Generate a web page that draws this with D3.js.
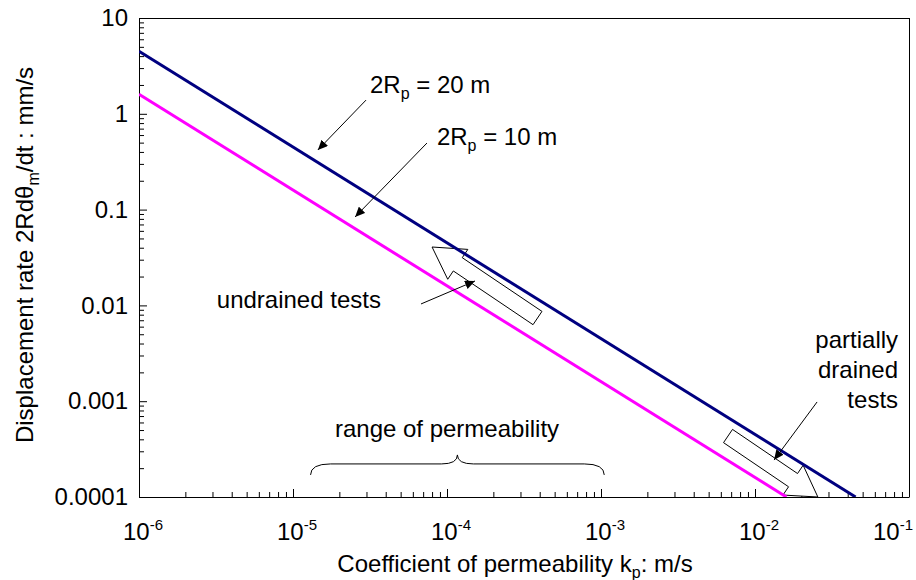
<!DOCTYPE html>
<html>
<head>
<meta charset="utf-8">
<script src="https://cdn.jsdelivr.net/npm/d3@7"></script>
<style>
  body { margin: 0; background: #fff; }
  #chart { width: 916px; height: 580px; }
  text { font-family: "Liberation Sans", Arial, sans-serif; fill: #000; }
</style>
</head>
<body>
<div id="chart"></div>
<script>
// ---- values ----
const kDomain = [1e-6, 1e-1];          // coefficient of permeability, m/s
const rateDomain = [1e-4, 10];         // displacement rate, mm/s
const yTickValues = [10, 1, 0.1, 0.01, 0.001, 0.0001];
const yTickLabels = ["10", "1", "0.1", "0.01", "0.001", "0.0001"];
const xTickExponents = [-6, -5, -4, -3, -2, -1];

// 2Rp = 20 m
const k_20m = [1e-6, 4.5e-2];
const rate_20m = [4.5, 1e-4];
// 2Rp = 10 m
const k_10m = [1e-6, 1.6e-2];
const rate_10m = [1.6, 1e-4];

const permeabilityRange = [1.3e-5, 1.05e-3];

// Width and Height of the box
const initial_width = 916;
const initial_height = 580;

const margin = {top: 18, right: 7, bottom: 83, left: 139},
    width = initial_width - margin.left - margin.right,
    height = initial_height - margin.top - margin.bottom;

const root = d3.select("#chart")
  .append("svg")
    .attr("width", initial_width)
    .attr("height", initial_height);

const svg = root.append("g")
    .attr("transform", "translate(" + margin.left + "," + margin.top + ")");

const fontSize = 24;
const subSize = 16;

// scales
const x = d3.scaleLog().domain(kDomain).range([0, width]);
const y = d3.scaleLog().domain(rateDomain).range([height, 0]);

// markers and clip
const defs = root.append("defs");
defs.append("clipPath").attr("id", "plot-clip")
  .append("rect").attr("width", width).attr("height", height);
defs.append("marker")
    .attr("id", "arrowhead")
    .attr("markerUnits", "userSpaceOnUse")
    .attr("markerWidth", 11).attr("markerHeight", 9)
    .attr("refX", 10).attr("refY", 4.5)
    .attr("orient", "auto")
  .append("path")
    .attr("d", "M0,0 L10,4.5 L0,9 Z")
    .attr("fill", "#000");

// minor ticks (inside)
const minorTicksY = y.ticks().filter(d => !yTickValues.includes(d));
const minorTicksX = x.ticks().filter(d => !xTickExponents.map(e => Math.pow(10, e)).some(v => Math.abs(v - d) / v < 1e-9));

svg.append("g")
  .call(d3.axisLeft(y).tickValues(minorTicksY).tickSize(-5).tickFormat(""))
  .call(g => g.select(".domain").remove());

svg.append("g")
  .attr("transform", "translate(0," + height + ")")
  .call(d3.axisBottom(x).tickValues(minorTicksX).tickSize(-5).tickFormat(""))
  .call(g => g.select(".domain").remove());

// major Y axis
svg.append("g")
  .call(d3.axisLeft(y).tickValues(yTickValues).tickSize(-8).tickSizeOuter(0).tickPadding(11)
    .tickFormat((d, i) => yTickLabels[i]))
  .call(g => g.selectAll("text").attr("font-size", fontSize).attr("font-family", null));

// major X axis, labels added by hand for the superscripts
svg.append("g")
  .attr("transform", "translate(0," + height + ")")
  .call(d3.axisBottom(x).tickValues(xTickExponents.map(e => Math.pow(10, e))).tickSize(-8).tickSizeOuter(0).tickFormat(""));

// the last label is pulled in so it stays inside the picture
const lastExp = xTickExponents[xTickExponents.length - 1];
const xLabels = svg.append("g")
  .selectAll("text")
  .data(xTickExponents)
  .enter()
  .append("text")
    .attr("x", d => d === lastExp ? width + 4 : x(Math.pow(10, d)) + 4)
    .attr("y", height + 43)
    .attr("text-anchor", d => d === lastExp ? "end" : "middle")
    .attr("font-size", fontSize);
xLabels.append("tspan").text("10");
xLabels.append("tspan").attr("dy", -10).attr("font-size", 15).text(d => d);

// plot frame (top and right)
svg.append("path")
  .attr("d", `M0,0 H${width} V${height}`)
  .attr("fill", "none")
  .attr("stroke", "#000")
  .attr("stroke-width", 1)
  .attr("shape-rendering", "crispEdges");

svg.selectAll(".domain").attr("stroke", "#000");
svg.selectAll(".tick line").attr("stroke", "#000");

// block arrows (hollow)
function blockArrow(tail, tip, shaftHalf, headHalf, headLen) {
  const x0 = x(tail[0]), y0 = y(tail[1]), x1 = x(tip[0]), y1 = y(tip[1]);
  const len = Math.hypot(x1 - x0, y1 - y0);
  const ux = (x1 - x0) / len, uy = (y1 - y0) / len;
  const nx = -uy, ny = ux;
  const bx = x1 - ux * headLen, by = y1 - uy * headLen;
  const pts = [
    [x0 + nx * shaftHalf, y0 + ny * shaftHalf],
    [bx + nx * shaftHalf, by + ny * shaftHalf],
    [bx + nx * headHalf, by + ny * headHalf],
    [x1, y1],
    [bx - nx * headHalf, by - ny * headHalf],
    [bx - nx * shaftHalf, by - ny * shaftHalf],
    [x0 - nx * shaftHalf, y0 - ny * shaftHalf]
  ];
  return "M" + pts.map(p => p.join(",")).join("L") + "Z";
}

const blocks = svg.append("g").attr("clip-path", "url(#plot-clip)");
blocks.append("path")
  .attr("d", blockArrow([3.87e-4, 7.38e-3], [8.0e-5, 0.0407], 8, 18, 31))
  .attr("fill", "#fff").attr("stroke", "#000").attr("stroke-width", 1);
blocks.append("path")
  .attr("d", blockArrow([6.68e-3, 4.33e-4], [2.56e-2, 1.0e-4], 8, 18, 30))
  .attr("fill", "#fff").attr("stroke", "#000").attr("stroke-width", 1);

// lines
const lineGen = d3.line()
  .x(d => x(d[0]))
  .y(d => y(d[1]));

const curves = svg.append("g").attr("clip-path", "url(#plot-clip)");
curves.append("path")
  .datum(d3.zip(k_20m, rate_20m))
  .attr("d", lineGen)
  .attr("fill", "none")
  .attr("stroke", "#000080")
  .attr("stroke-width", 3);
curves.append("path")
  .datum(d3.zip(k_10m, rate_10m))
  .attr("d", lineGen)
  .attr("fill", "none")
  .attr("stroke", "#ff00ff")
  .attr("stroke-width", 3);

// thin arrows
const pointers = [
  [[2.98e-5, 1.39], [1.45e-5, 0.419]],
  [[7.41e-5, 0.495], [2.53e-5, 0.0838]],
  [[6.78e-5, 0.01035], [1.52e-4, 0.018]],
  [[2.53e-2, 9.82e-4], [1.33e-2, 2.43e-4]]
];
svg.append("g")
  .selectAll("line")
  .data(pointers)
  .enter()
  .append("line")
    .attr("x1", d => x(d[0][0])).attr("y1", d => y(d[0][1]))
    .attr("x2", d => x(d[1][0])).attr("y2", d => y(d[1][1]))
    .attr("stroke", "#000")
    .attr("stroke-width", 1)
    .attr("marker-end", "url(#arrowhead)");

// annotations
function rpLabel(k, rate, value) {
  const t = svg.append("text")
    .attr("x", x(k)).attr("y", y(rate))
    .attr("font-size", fontSize);
  t.append("tspan").text("2R");
  t.append("tspan").attr("dy", 6).attr("font-size", subSize).text("p");
  t.append("tspan").attr("dy", -6).text(" = " + value);
}
rpLabel(3.16e-5, 1.65, "20 m");
rpLabel(8.6e-5, 0.472, "10 m");

svg.append("text")
  .attr("x", x(3.2e-6)).attr("y", y(0.0094))
  .attr("font-size", fontSize)
  .text("undrained tests");

[["partially", 3.59e-3], ["drained", 1.75e-3], ["tests", 8.5e-4]].forEach(r => {
  svg.append("text")
    .attr("x", x(0.0849)).attr("y", y(r[1]))
    .attr("text-anchor", "end")
    .attr("font-size", fontSize)
    .text(r[0]);
});

svg.append("text")
  .attr("x", x(1e-4)).attr("y", y(4.2e-4))
  .attr("text-anchor", "middle")
  .attr("font-size", fontSize)
  .text("range of permeability");

// curly brace over the range
const bx0 = x(permeabilityRange[0]), bx1 = x(permeabilityRange[1]);
const bxc = (bx0 + bx1) / 2;
const byb = y(1.7e-4), bym = byb - 11, byt = byb - 20;
svg.append("path")
  .attr("d", `M${bx0},${byb} Q${bx0},${bym} ${bx0 + 20},${bym} L${bxc - 16},${bym} Q${bxc},${bym} ${bxc},${byt}` +
             ` Q${bxc},${bym} ${bxc + 16},${bym} L${bx1 - 20},${bym} Q${bx1},${bym} ${bx1},${byb}`)
  .attr("fill", "none")
  .attr("stroke", "#000")
  .attr("stroke-width", 1);

// axis titles
const xTitle = svg.append("text")
  .attr("x", 376)
  .attr("y", height + 75)
  .attr("text-anchor", "middle")
  .attr("font-size", fontSize);
xTitle.append("tspan").text("Coefficient of permeability k");
xTitle.append("tspan").attr("dy", 6).attr("font-size", subSize).text("p");
xTitle.append("tspan").attr("dy", -6).text(": m/s");

const yTitle = svg.append("text")
  .attr("text-anchor", "middle")
  .attr("transform", `translate(${-106}, ${237}) rotate(-90)`)
  .attr("font-size", fontSize);
yTitle.append("tspan").text("Displacement rate 2Rd\u03b8");
yTitle.append("tspan").attr("dy", 6).attr("font-size", subSize).text("m");
yTitle.append("tspan").attr("dy", -6).text("/dt : mm/s");
</script>
</body>
</html>
